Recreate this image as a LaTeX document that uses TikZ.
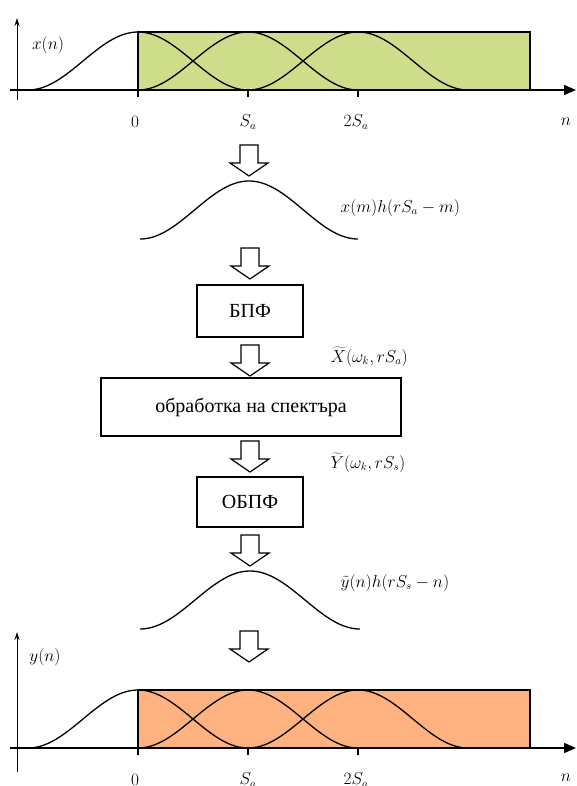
\documentclass[tikz,border=0pt]{standalone}
\usepackage{fontspec}
\setmainfont{Liberation Serif}
\usetikzlibrary{arrows.meta}
\definecolor{lgreen}{RGB}{206,221,138}
\definecolor{lorange}{RGB}{253,178,128}
\begin{document}
\begin{tikzpicture}[x=1pt,y=-1pt,
  line width=1.3pt,
  box/.style={draw, line width=1.6pt, rectangle, inner sep=0pt, font=\fontsize{20}{24}\selectfont},
  lbl/.style={font=\fontsize{16}{19}\selectfont, inner sep=0pt},
  barrow/.pic={\draw[line width=1.2pt, fill=white] (-9,0) -- (9,0) -- (9,18) -- (19,18) -- (0,31) -- (-19,18) -- (-9,18) -- cycle;},
  yaxis/.style={line width=1pt, -{Stealth[length=8pt,width=5pt]}},
  xaxis/.style={line width=1.5pt, -{Triangle[length=12pt,width=10pt]}},
]
\useasboundingbox (0,0) rectangle (576,786);

% ---------- top panel ----------
\fill[lgreen] (138,32) rectangle (530,90);
\draw (138,32) rectangle (530,90);
\foreach \c in {138,248,358}
  \draw plot[domain=-110:110, samples=80, smooth] ({\c+\x}, {90-29*(1+cos((\x/110)*180))});
\draw[yaxis] (17,100) -- (17,18);
\draw[xaxis] (10,90) -- (576,90);
\foreach \t in {138,248,358} \draw (\t,90) -- (\t,97);
\node[lbl] (xn) at (48,45) {$x(n)$};
\node[lbl] (t0) at (135,122) {$0$};
\node[lbl] (t1) at (248,122) {$S_a$};
\node[lbl] (t2) at (356,122) {$2S_a$};
\node[lbl] (tn) at (566,122) {$n$};

% ---------- middle ----------
\pic at (249,145) {barrow};
\draw plot[domain=-109:109, samples=80, smooth] ({249+\x},{239-29*(1+cos((\x/109)*180))});
\node[lbl, anchor=west] (l1) at (340,208) {$x(m)h(rS_a-m)$};
\pic at (250,248) {barrow};
\node[box, minimum width=106, minimum height=52] (fft) at (250,311) {БПФ};
\pic at (250,345) {barrow};
\node[lbl, anchor=west] (l2) at (330,357) {$\widetilde{X}(\omega_k, rS_a)$};
\node[box, minimum width=300, minimum height=58] (proc) at (251,407) {обработка на спектъра};
\pic at (250,441) {barrow};
\node[lbl, anchor=west] (l3) at (330,463) {$\widetilde{Y}(\omega_k, rS_s)$};
\node[box, minimum width=106, minimum height=50] (ifft) at (250,502) {ОБПФ};
\pic at (250,535) {barrow};
\draw plot[domain=-110:110, samples=80, smooth] ({250+\x},{629-29*(1+cos((\x/110)*180))});
\node[lbl, anchor=west] (l4) at (340,583) {$\tilde{y}(n)h(rS_s-n)$};
\pic at (249,631) {barrow};

% ---------- bottom panel ----------
\fill[lorange] (138,690) rectangle (530,748);
\draw (138,690) rectangle (530,748);
\foreach \c in {138,248,358}
  \draw plot[domain=-110:110, samples=80, smooth] ({\c+\x}, {748-29*(1+cos((\x/110)*180))});
\draw[yaxis] (17,772) -- (17,632);
\draw[xaxis] (10,748) -- (576,748);
\foreach \t in {138,248,358} \draw (\t,748) -- (\t,755);
\node[lbl] (yn) at (45,657) {$y(n)$};
\node[lbl] (b0) at (135,780) {$0$};
\node[lbl] (b1) at (248,780) {$S_a$};
\node[lbl] (b2) at (356,780) {$2S_a$};
\node[lbl] (bn) at (566,778) {$n$};
\end{tikzpicture}
\end{document}
